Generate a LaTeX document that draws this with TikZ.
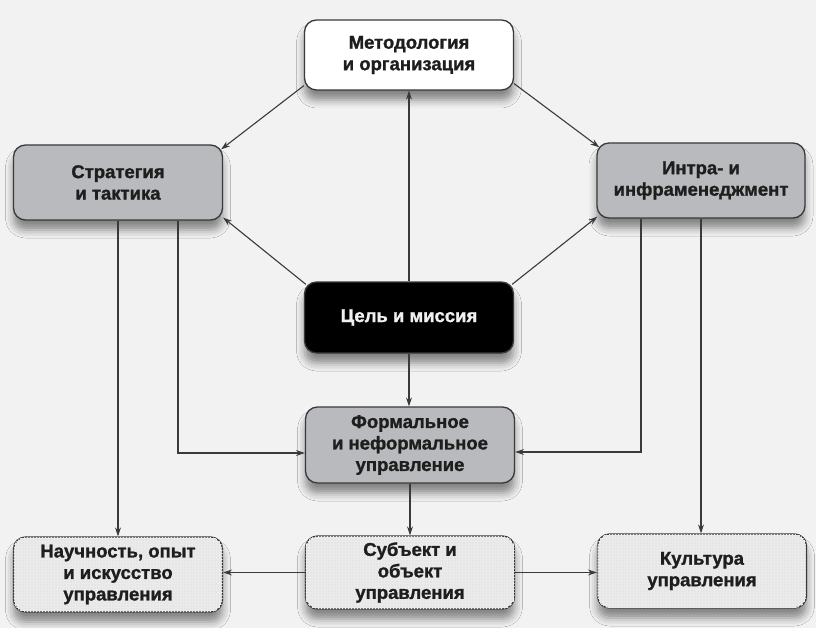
\documentclass[tikz,border=0pt]{standalone}
\usepackage{fontspec}
\setmainfont{Liberation Sans}[BoldFeatures={FakeBold=1.3}]
\usetikzlibrary{calc,arrows.meta,shadows.blur,patterns}

\definecolor{pagebg}{HTML}{F2F2F2}
\definecolor{boxgray}{HTML}{B9BABD}
\definecolor{boxlight}{HTML}{E6E6E6}
\definecolor{edge}{HTML}{3A3A3A}
\definecolor{ink}{HTML}{1E1E1E}

\tikzset{
  base/.style={rounded corners=12pt, draw=edge, line width=1.3pt,
    minimum width=209pt, minimum height=73pt, align=center, text=ink,
    font=\bfseries\fontsize{18.5}{21.5}\selectfont,
    blur shadow={shadow xshift=0pt, shadow yshift=-10pt,
      shadow blur radius=8pt, shadow opacity=45}},
  whitebox/.style={base, fill=white},
  graybox/.style={base, fill=boxgray},
  darkbox/.style={base, fill=black, text=white!94!black},
  lightbox/.style={base, fill=boxlight,
    postaction={pattern=grid, pattern color=black!8}},
  link/.style={draw=edge, line width=1.1pt,
    -{Stealth[length=9pt, width=6pt]}}
}

\begin{document}
\begin{tikzpicture}[x=1pt, y=-1pt]
  % canvas
  \fill[pagebg] (0,0) rectangle (816,628);
  \useasboundingbox (0,0) rectangle (816,628);

  % boxes
  \node[whitebox, minimum height=70pt] (met)  at (409,55)    {Методология\\и организация};
  \node[graybox, minimum height=75pt]  (str)  at (118,182.5) {Стратегия\\и тактика};
  \node[graybox, minimum height=75pt, minimum width=208pt] (int) at (701,180.5) {Интра- и\\инфраменеджмент};
  \node[darkbox, minimum height=71pt]  (goal) at (409,317.5) {Цель и миссия};
  \node[graybox, minimum height=76pt]  (form) at (410,445)   {Формальное\\и неформальное\\управление};
  \node[lightbox, minimum height=75pt] (nau)  at (118,574.5) {Научность, опыт\\и искусство\\управления};
  \node[lightbox, minimum height=73pt] (sub)  at (410,572.5) {Субъект и\\объект\\управления};
  \node[lightbox, minimum height=74pt] (cul)  at (702,571)   {Культура\\управления};

  % connectors from the top box
  \draw[link] ($(met.south west)+(0,-5)$) -- ($(str.north east)+(-2,5)$);
  \draw[link] ($(met.south east)+(0,-7)$) -- ($(int.north west)+(3,5)$);

  % connectors from the central box
  \draw[link] (goal.north) -- (goal.north |- met.south);
  \draw[link] ($(goal.north west)+(2,3)$) -- ($(str.south east)+(0,-3)$);
  \draw[link] ($(goal.north east)+(-2,3)$) -- ($(int.south west)+(1,-2)$);
  \draw[link] (goal.south) -- (goal.south |- form.north);

  % side columns
  \draw[link] (str.south) -- (str.south |- nau.north);
  \draw[link] ($(str.south)+(60,0)$) |- ($(form.west)+(0,8)$);
  \draw[link] ($(int.south)+(-60,0)$) |- ($(form.east)+(0,7)$);
  \draw[link] (int.south) -- (int.south |- cul.north);

  % bottom row
  \draw[link] (form.south) -- (form.south |- sub.north);
  \draw[link] (sub.west) -- (sub.west -| nau.east);
  \draw[link] (sub.east) -- (sub.east -| cul.west);
\end{tikzpicture}
\end{document}
